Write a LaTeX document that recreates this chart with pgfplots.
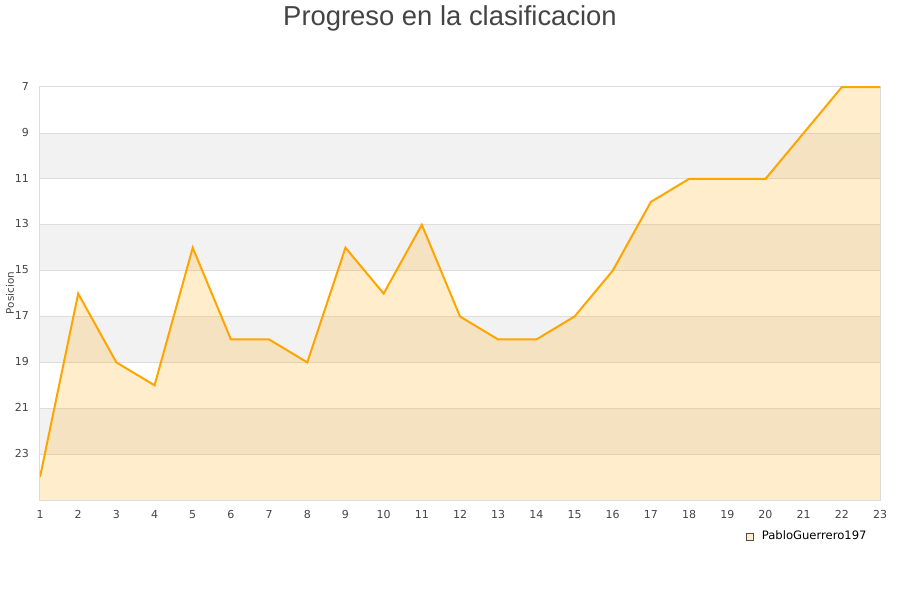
\documentclass[border=0pt]{standalone}
\usepackage{pgfplots}
\pgfplotsset{compat=1.18}
\usepackage{fontspec}
\setmainfont{DejaVu Sans}
\newfontfamily\titlefont{Liberation Sans}
\definecolor{linec}{HTML}{FFA500}
\definecolor{bandc}{HTML}{F2F2F2}
\definecolor{gridc}{HTML}{DDDDDD}
\definecolor{tickc}{HTML}{444444}
\definecolor{legfill}{HTML}{FFEDCC}
\begin{document}
\begin{tikzpicture}[x=1pt,y=1pt]
\useasboundingbox (0,0) rectangle (450,300);
\node[font=\titlefont\fontsize{13.7}{16}\selectfont, text=tickc] at (225,291) {Progreso en la clasificacion};
\node[rotate=90, font=\fontsize{5.2}{6}\selectfont, text=tickc] at (5,153.5) {Posicion};
\begin{axis}[
  at={(20pt,50pt)}, anchor=south west,
  scale only axis, width=420pt, height=207pt,
  xmin=1, xmax=23, ymin=6.95, ymax=25,
  y dir=reverse,
  xtick={1,...,23}, ytick={7,9,...,23},
  axis line style={draw=gridc, line width=0.5pt},
  major tick length=0pt,
  ticklabel style={font=\fontsize{5.5}{6}\selectfont, text=tickc},
  /pgf/number format/assume math mode=true,
  xticklabel style={yshift=-1.5pt},
  yticklabel style={xshift=-2pt, yshift=0.4pt},
  legend style={at={(0.8405,-0.0894)}, anchor=west, draw=none, fill=none,
    font=\fontsize{5.8}{6}\selectfont, inner sep=0pt},
  legend cell align=left,
]
\fill[bandc] (axis cs:1,9) rectangle (axis cs:23,11);
\fill[bandc] (axis cs:1,13) rectangle (axis cs:23,15);
\fill[bandc] (axis cs:1,17) rectangle (axis cs:23,19);
\fill[bandc] (axis cs:1,21) rectangle (axis cs:23,23);
\pgfplotsinvokeforeach{9,11,...,23}{\draw[gridc, line width=0.4pt] (axis cs:1,#1) -- (axis cs:23,#1);}
\addplot[fill=linec, fill opacity=0.2, draw=none, forget plot] coordinates {
(1,25) (1,24) (2,16) (3,19) (4,20) (5,14) (6,18) (7,18) (8,19) (9,14) (10,16) (11,13) (12,17) (13,18) (14,18) (15,17) (16,15) (17,12) (18,11) (19,11) (20,11) (21,9) (22,7) (23,7) (23,25)} -- cycle;
\addplot[draw=linec, line width=1pt, mark=none,
  legend image code/.code={\draw[fill=legfill, draw=black!70, line width=0.3pt] (0pt,-1.7pt) rectangle (3.4pt,1.7pt);}] coordinates {
(1,24) (2,16) (3,19) (4,20) (5,14) (6,18) (7,18) (8,19) (9,14) (10,16) (11,13) (12,17) (13,18) (14,18) (15,17) (16,15) (17,12) (18,11) (19,11) (20,11) (21,9) (22,7) (23,7)};
\addlegendentry{\hspace{2pt}PabloGuerrero197}
\end{axis}
\end{tikzpicture}
\end{document}
